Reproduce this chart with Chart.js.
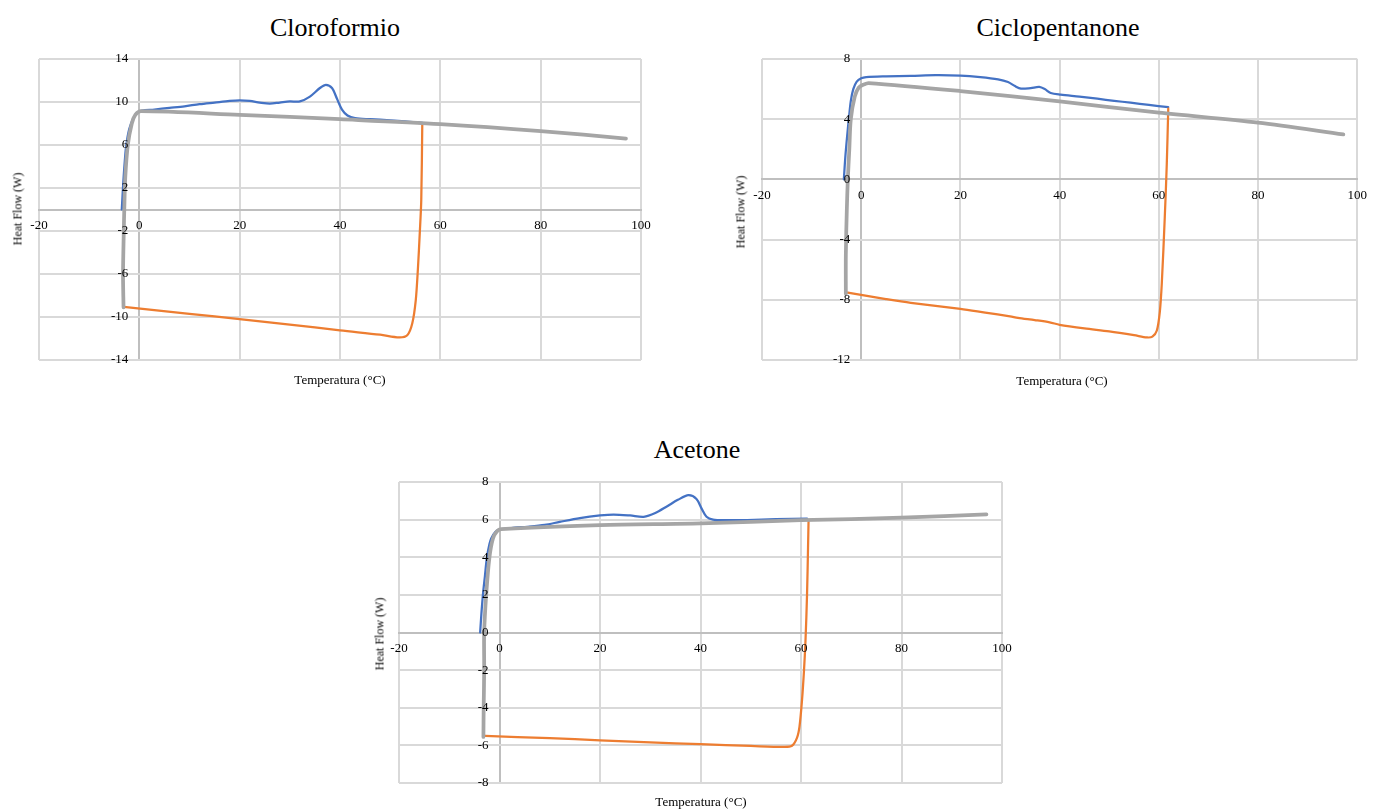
<!DOCTYPE html>
<html>
<head>
<meta charset="utf-8">
<script src="https://cdn.jsdelivr.net/npm/chart.js@4.4.1/dist/chart.umd.min.js"></script>
<style>
  html, body { margin: 0; padding: 0; background: #fff; }
  #page { position: relative; width: 1375px; height: 809px; overflow: hidden; font-family: "Liberation Serif", "Times New Roman", serif; color: #000; }
  canvas { position: absolute; }
  .title { position: absolute; font-size: 26px; line-height: 26px; white-space: nowrap; transform: translateX(-50%); }
  .xt { position: absolute; font-size: 13px; white-space: nowrap; transform: translate(-50%, -50%); }
  .yt { position: absolute; font-size: 12px; white-space: nowrap; transform: translate(-50%, -50%) rotate(-90deg); }
</style>
</head>
<body>
<div id="page">
  <div class="title" style="left:335px; top:15px;">Cloroformio</div>
  <div class="title" style="left:1058px; top:15px;">Ciclopentanone</div>
  <div class="title" style="left:697px; top:437px;">Acetone</div>

  <canvas id="cCloro" width="680" height="400" style="left:0; top:0;"></canvas>
  <canvas id="cCiclo" width="675" height="400" style="left:700px; top:0;"></canvas>
  <canvas id="cAcet" width="720" height="389" style="left:340px; top:420px;"></canvas>

  <div class="yt" style="left:18px; top:209px;">Heat Flow (W)</div>
  <div class="xt" style="left:340px; top:380px;">Temperatura (°C)</div>
  <div class="yt" style="left:741px; top:212px;">Heat Flow (W)</div>
  <div class="xt" style="left:1062px; top:381px;">Temperatura (°C)</div>
  <div class="yt" style="left:380px; top:634px;">Heat Flow (W)</div>
  <div class="xt" style="left:701px; top:802px;">Temperatura (°C)</div>
</div>
<script>
// Three DSC-style loops (heat flow vs temperature), one chart per solvent.
// Blue = heating, orange = cooling, grey = second pass.

const X_TICKS = [-20, 0, 20, 40, 60, 80, 100];

// --- Cloroformio ---
const CLORO_Y_TICKS = [-14, -10, -6, -2, 2, 6, 10, 14];
const CLORO_BLUE_T = [-3.5, -3.2, -2.9, -2.6, -2.0, -1.2, -0.5, 0.5, 3, 6, 9, 12, 15, 18, 20, 22, 24, 26, 28, 30, 32, 34, 36, 37.2, 38.4, 39.4, 40.4, 41.5, 43, 46, 50, 53, 56.4];
const CLORO_BLUE_HF = [0, 2.5, 4.5, 6.0, 7.5, 8.5, 9.0, 9.2, 9.3, 9.45, 9.6, 9.8, 9.95, 10.1, 10.15, 10.1, 9.95, 9.85, 9.95, 10.05, 10.05, 10.5, 11.3, 11.6, 11.3, 10.3, 9.3, 8.75, 8.5, 8.4, 8.3, 8.2, 8.05];
const CLORO_ORANGE_T = [-3.1, 10, 20, 30, 40, 48, 51.8, 53.4, 54.4, 55.1, 55.55, 55.9, 56.2, 56.4];
const CLORO_ORANGE_HF = [-9.05, -9.7, -10.2, -10.7, -11.25, -11.65, -11.9, -11.7, -10.6, -8.45, -5.35, -2.2, 0.9, 7.9];
const CLORO_GRAY_T = [-3.15, -3.25, -3.1, -3.0, -2.8, -2.3, -1.5, -0.8, 0.3, 20, 40, 60, 80, 97];
const CLORO_GRAY_HF = [-9.1, -6, -2, 0, 3, 6, 8, 8.8, 9.15, 8.8, 8.4, 7.95, 7.3, 6.6];

// --- Ciclopentanone ---
const CICLO_Y_TICKS = [-12, -8, -4, 0, 4, 8];
const CICLO_BLUE_T = [-3.5, -3.2, -2.8, -2.5, -2.1, -1.6, -0.9, 0, 1, 5, 10, 15, 20, 24, 27.6, 29.6, 31, 32.2, 34.2, 35.9, 37, 38.2, 40.2, 44, 47.6, 51, 54.3, 58, 61.9];
const CICLO_BLUE_HF = [0, 1.5, 3, 4, 5.2, 6.0, 6.5, 6.72, 6.8, 6.85, 6.88, 6.93, 6.9, 6.8, 6.65, 6.47, 6.2, 6.03, 6.07, 6.14, 6.0, 5.74, 5.63, 5.5, 5.36, 5.22, 5.1, 4.95, 4.8];
const CICLO_ORANGE_T = [-2.7, 5, 10, 20, 25, 30, 31.6, 35, 38, 40, 45, 50, 55, 57.6, 58.7, 59.6, 60.2, 60.6, 61.2, 61.6, 61.9];
const CICLO_ORANGE_HF = [-7.53, -7.95, -8.2, -8.6, -8.85, -9.1, -9.2, -9.35, -9.5, -9.66, -9.9, -10.1, -10.35, -10.5, -10.45, -10.04, -8.8, -6.9, -2.5, 1, 4.7];
const CICLO_GRAY_T = [-3.1, -3.1, -2.9, -2.7, -2.4, -2.1, -1.3, -0.5, 0.5, 1.5, 20, 40, 60, 80, 97.2];
const CICLO_GRAY_HF = [-7.6, -5, -2, 0, 2, 4, 5.5, 6.1, 6.3, 6.4, 5.87, 5.19, 4.43, 3.77, 2.99];

// --- Acetone ---
const ACET_Y_TICKS = [-8, -6, -4, -2, 0, 2, 4, 6, 8];
const ACET_BLUE_T = [-3.85, -3.6, -3.3, -2.9, -2.5, -2.0, -1.65, -0.8, 0.1, 3, 5.5, 9, 12, 16, 20, 22.7, 26, 28.7, 31, 33.3, 35.5, 37.6, 39.2, 40.2, 41.2, 42.5, 45, 49.3, 55, 61.2];
const ACET_BLUE_HF = [0, 1, 2, 3, 4, 4.7, 5.0, 5.35, 5.48, 5.57, 5.62, 5.72, 5.88, 6.08, 6.22, 6.27, 6.22, 6.15, 6.35, 6.7, 7.05, 7.3, 7.1, 6.6, 6.15, 6.0, 5.97, 5.98, 6.02, 6.05];
const ACET_ORANGE_T = [-2.85, 10, 20, 30, 40, 50, 56.6, 58.2, 59.2, 59.7, 60.2, 60.6, 60.9, 61.2, 61.4, 61.5];
const ACET_ORANGE_HF = [-5.5, -5.62, -5.73, -5.84, -5.94, -6.03, -6.08, -6.02, -5.6, -5.0, -3.6, -2.0, -0.4, 2, 4.5, 5.9];
const ACET_GRAY_T = [-3.2, -3.15, -3.05, -3.05, -2.65, -2.0, -1.3, -0.5, 0.3, 20, 40, 60, 80, 96.9];
const ACET_GRAY_HF = [-5.55, -4, -2, 0, 2, 4, 5.0, 5.38, 5.5, 5.71, 5.8, 5.97, 6.1, 6.28];

const BLUE = "#4472c4";
const ORANGE = "#ed7d31";
const GRAY = "#a5a5a5";
const GRID = "#d9d9d9";
const AXIS = "#bfbfbf";
const TICK_FONT = { family: "'Liberation Serif', 'Times New Roman', serif", size: 13 };
const Y_LABEL_GAP = 11; // px between y tick labels and the x=0 axis line

function pts(xs, ys) {
  return xs.map((x, i) => ({ x, y: ys[i] }));
}

function line(data, color, width, order) {
  return {
    data, borderColor: color, borderWidth: width, order,
    showLine: true, pointRadius: 0, pointHoverRadius: 0,
    tension: 0.3, fill: false, borderCapStyle: "round", borderJoinStyle: "round"
  };
}

// value 0 gridlines act as the axis lines, so draw them darker
const gridColor = (ctx) => (ctx.tick && ctx.tick.value === 0 ? AXIS : GRID);

function makeChart(id, pad, yTicks, series) {
  const [blue, orange, gray] = series;
  const canvas = document.getElementById(id);
  const areaW = canvas.width - pad.left - pad.right;
  const xSpan = X_TICKS[X_TICKS.length - 1] - X_TICKS[0];
  // y labels sit at the y-axis position; shift that position left so labels
  // keep a gap from the x=0 line (the x=0 gridline draws the axis itself)
  const yAxisAt = -Y_LABEL_GAP * xSpan / areaW;
  return new Chart(canvas, {
    type: "scatter",
    data: {
      datasets: [
        line(gray, GRAY, 3.75, 1),
        line(orange, ORANGE, 2.25, 2),
        line(blue, BLUE, 2.25, 3)
      ]
    },
    options: {
      responsive: false,
      animation: false,
      layout: { padding: pad },
      plugins: { legend: { display: false }, tooltip: { enabled: false }, title: { display: false } },
      events: [],
      scales: {
        x: {
          type: "linear",
          position: { y: 0 },
          min: X_TICKS[0],
          max: X_TICKS[X_TICKS.length - 1],
          afterBuildTicks: (axis) => { axis.ticks = X_TICKS.map((v) => ({ value: v })); },
          grid: { color: gridColor, lineWidth: 2, drawTicks: false },
          border: { display: true, color: AXIS, width: 2 },
          ticks: { autoSkip: false, maxRotation: 0, padding: 8, color: "#000", font: TICK_FONT, z: 1 }
        },
        y: {
          type: "linear",
          position: { x: yAxisAt },
          min: yTicks[0],
          max: yTicks[yTicks.length - 1],
          afterBuildTicks: (axis) => { axis.ticks = yTicks.map((v) => ({ value: v })); },
          grid: { color: gridColor, lineWidth: 2, drawTicks: false },
          border: { display: false },
          ticks: { autoSkip: false, padding: 0, color: "#000", font: TICK_FONT, z: 1 }
        }
      }
    }
  });
}

makeChart("cCloro", { left: 39, right: 39, top: 59, bottom: 40 }, CLORO_Y_TICKS, [
  pts(CLORO_BLUE_T, CLORO_BLUE_HF), pts(CLORO_ORANGE_T, CLORO_ORANGE_HF), pts(CLORO_GRAY_T, CLORO_GRAY_HF)
]);
makeChart("cCiclo", { left: 62, right: 12, top: 59, bottom: 40 }, CICLO_Y_TICKS, [
  pts(CICLO_BLUE_T, CICLO_BLUE_HF), pts(CICLO_ORANGE_T, CICLO_ORANGE_HF), pts(CICLO_GRAY_T, CICLO_GRAY_HF)
]);
makeChart("cAcet", { left: 59, right: 58, top: 62, bottom: 26 }, ACET_Y_TICKS, [
  pts(ACET_BLUE_T, ACET_BLUE_HF), pts(ACET_ORANGE_T, ACET_ORANGE_HF), pts(ACET_GRAY_T, ACET_GRAY_HF)
]);
</script>
</body>
</html>
